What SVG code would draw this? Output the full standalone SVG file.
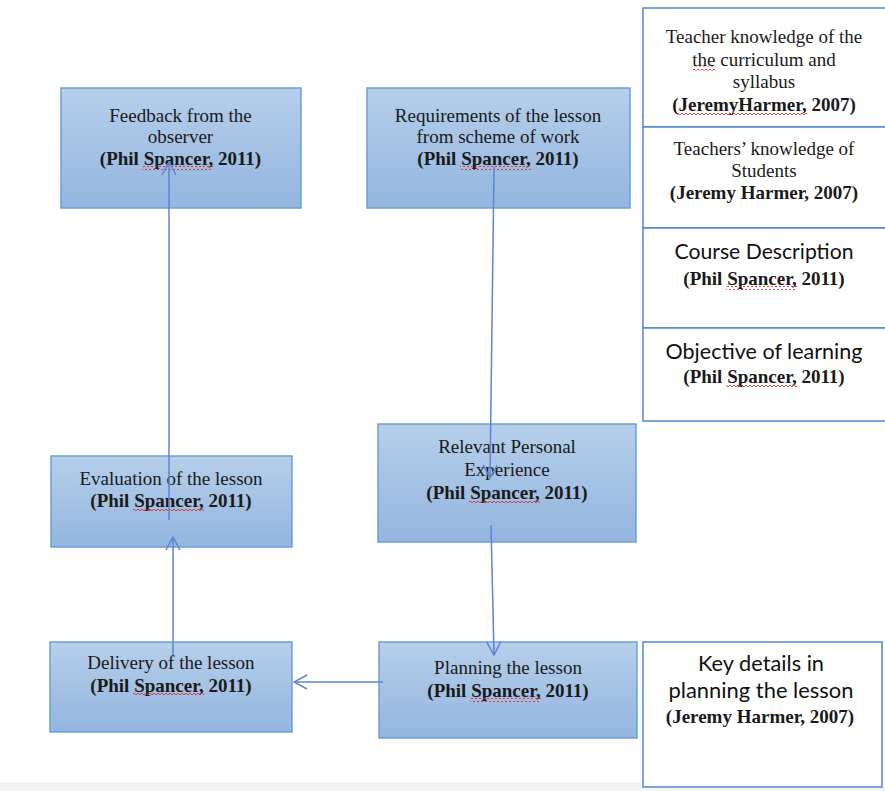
<svg xmlns="http://www.w3.org/2000/svg" width="885" height="791" viewBox="0 0 885 791">
<style>
.box{stroke:#6f9ed9;stroke-width:1.5;fill:url(#grad)}
.wbox{stroke:#5585d3;stroke-width:1.5;fill:#fff}
.t{font-family:"Liberation Serif","Times New Roman",serif;font-size:19px;fill:#1a1a1a;text-anchor:middle}
.b{font-weight:bold}
.s{font-family:Lato,"Liberation Sans",sans-serif;font-size:20.5px;fill:#111;text-anchor:middle}
.c{stroke:#5a86d4;stroke-width:1.5;fill:none}
.w{fill:url(#wavy)}
</style>
<defs>
<linearGradient id="grad" x1="0" y1="0" x2="0" y2="1">
<stop offset="0" stop-color="#b6cfea"/>
<stop offset="1" stop-color="#93b5df"/>
</linearGradient>
<pattern id="wavy" width="4" height="4" patternUnits="userSpaceOnUse">
<path d="M0,3 L2,1 L4,3" stroke="#e0302a" stroke-width="0.9" fill="none"/>
</pattern>
<marker id="arr" markerUnits="userSpaceOnUse" markerWidth="16" markerHeight="18" viewBox="-15 -9 16 18" refX="0" refY="0" orient="auto">
<path d="M-13,-7 L0,0 L-13,7" stroke="#5a86d4" stroke-width="1.5" fill="none"/>
</marker>
</defs>
<rect x="0" y="0" width="885" height="791" fill="#fff"/>
<rect x="0" y="782" width="885" height="9" fill="#f4f4f4"/>

<g id="feedback">
<rect class="box" x="61" y="88" width="240" height="120"/>
<text class="t" x="180.5" y="122">Feedback from the</text>
<text class="t" x="180.5" y="143">observer</text>
<text class="t b" x="180.5" y="165">(Phil Spancer, 2011)</text>
<rect class="w" x="142" y="166" width="71" height="4"/>
</g>

<g id="requirements">
<rect class="box" x="367" y="88" width="263" height="120"/>
<text class="t" x="498" y="122">Requirements of the lesson</text>
<text class="t" x="498" y="143">from scheme of work</text>
<text class="t b" x="498" y="165">(Phil Spancer, 2011)</text>
<rect class="w" x="460" y="166" width="71" height="4"/>
</g>

<g id="teacher-curriculum">
<rect class="wbox" x="643" y="8" width="250" height="119"/>
<text class="t" x="764" y="43">Teacher knowledge of the</text>
<text class="t" x="764" y="65.5">the curriculum and</text>
<rect class="w" x="692" y="66.5" width="24" height="4"/>
<text class="t" x="764" y="88">syllabus</text>
<text class="t b" x="764" y="110.5">(JeremyHarmer, 2007)</text>
<rect class="w" x="677" y="111.5" width="130" height="4"/>
</g>

<g id="teacher-students">
<rect class="wbox" x="643" y="127" width="250" height="101"/>
<text class="t" x="764" y="155">Teachers’ knowledge of</text>
<text class="t" x="764" y="177">Students</text>
<text class="t b" x="764" y="199">(Jeremy Harmer, 2007)</text>
</g>

<g id="course-description">
<rect class="wbox" x="643" y="228" width="250" height="100"/>
<text class="s" x="764" y="259" textLength="179" lengthAdjust="spacingAndGlyphs">Course Description</text>
<text class="t b" x="764" y="285">(Phil Spancer, 2011)</text>
<rect class="w" x="726" y="286" width="71" height="4"/>
</g>

<g id="objective">
<rect class="wbox" x="643" y="328" width="250" height="93"/>
<text class="s" x="764" y="359" textLength="197" lengthAdjust="spacingAndGlyphs">Objective of learning</text>
<text class="t b" x="764" y="383">(Phil Spancer, 2011)</text>
<rect class="w" x="726" y="384" width="71" height="4"/>
</g>

<g id="evaluation">
<rect class="box" x="51" y="456" width="241" height="91"/>
<text class="t" x="171" y="485">Evaluation of the lesson</text>
<text class="t b" x="171" y="507">(Phil Spancer, 2011)</text>
<rect class="w" x="133" y="508" width="71" height="4"/>
</g>

<g id="relevant">
<rect class="box" x="378" y="424" width="258" height="118"/>
<text class="t" x="507" y="453">Relevant Personal</text>
<text class="t" x="507" y="476">Experience</text>
<text class="t b" x="507" y="499">(Phil Spancer, 2011)</text>
<rect class="w" x="469" y="500" width="71" height="4"/>
</g>

<g id="delivery">
<rect class="box" x="50" y="642" width="242" height="90"/>
<text class="t" x="171" y="669">Delivery of the lesson</text>
<text class="t b" x="171" y="692">(Phil Spancer, 2011)</text>
<rect class="w" x="133" y="693" width="71" height="4"/>
</g>

<g id="planning">
<rect class="box" x="379" y="642" width="258" height="96"/>
<text class="t" x="508" y="674">Planning the lesson</text>
<text class="t b" x="508" y="697">(Phil Spancer, 2011)</text>
<rect class="w" x="470" y="698" width="71" height="4"/>
</g>

<g id="key-details">
<rect class="wbox" x="643" y="642" width="239" height="145"/>
<text class="s" x="761" y="671" textLength="126" lengthAdjust="spacingAndGlyphs">Key details in</text>
<text class="s" x="761" y="698" textLength="185" lengthAdjust="spacingAndGlyphs">planning the lesson</text>
<text class="t b" x="760" y="723">(Jeremy Harmer, 2007)</text>
</g>

<g id="connectors">
<line class="c" x1="169" y1="520" x2="169" y2="162" marker-end="url(#arr)"/>
<line class="c" x1="173" y1="655" x2="173" y2="537" marker-end="url(#arr)"/>
<line class="c" x1="494" y1="167" x2="490" y2="478" marker-end="url(#arr)"/>
<line class="c" x1="491" y1="525" x2="494" y2="655" marker-end="url(#arr)"/>
<line class="c" x1="383" y1="682" x2="294" y2="682" marker-end="url(#arr)"/>
</g>
</svg>
